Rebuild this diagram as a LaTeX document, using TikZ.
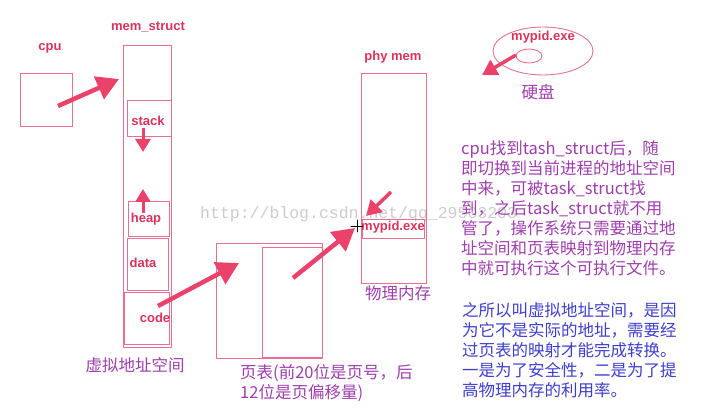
\documentclass[tikz,border=0pt]{standalone}
\usepackage{fontspec}
\setsansfont{Liberation Sans}
\newfontfamily\cjk{Noto Sans CJK SC}
\newfontfamily\wmfont{Liberation Mono}
\usetikzlibrary{arrows.meta,shapes.geometric}
\definecolor{boxred}{RGB}{232,112,142}
\definecolor{tagred}{RGB}{218,50,90}
\definecolor{arrred}{RGB}{234,66,106}
\definecolor{notepurple}{RGB}{158,62,172}
\definecolor{noteblue}{RGB}{62,62,205}

\begin{document}
\begin{tikzpicture}[x=1pt,y=-1pt,line cap=round,line join=round,
 box/.style={draw=boxred,line width=0.9pt,inner sep=0pt,anchor=north west},
 tag/.style={text=tagred,font=\sffamily\bfseries\fontsize{13}{13}\selectfont,inner sep=1pt},
 note/.style={font=\cjk\fontsize{16.5}{20}\selectfont,align=left,anchor=north west,inner sep=0pt},
 fat/.style={draw=arrred,line width=4.5pt,line cap=butt,-{Triangle[length=22pt,width=24pt]}},
 midarr/.style={draw=arrred,line width=3.5pt,line cap=butt,-{Triangle[length=15pt,width=17pt]}},
 thin/.style={draw=arrred,line width=3pt,line cap=butt,-{Triangle[length=13pt,width=15pt]}}]
\useasboundingbox (0,0) rectangle (701,414);
% watermark
\node[anchor=west,inner sep=0pt,text=black!20,font=\wmfont\fontsize{16.5}{16.5}\selectfont] (wm) at (200,214) {http://blog.csdn.net/qq\_29503203};
% cpu
\node[tag] (cpulbl) at (50,48) {cpu};
\node[box,minimum width=52,minimum height=53] (cpu) at (20,73) {};
% virtual address space
\node[tag] (memlbl) at (148,27) {mem\_struct};
\node[box,minimum width=48,minimum height=302] (mem) at (123,45) {};
\node[box,minimum width=44,minimum height=36] (stack) at (127,100) {};
\node[box,minimum width=41,minimum height=35] (heap) at (128,201) {};
\node[box,minimum width=41,minimum height=52] (data) at (127,238) {};
\node[box,minimum width=45,minimum height=52] (code) at (124,292) {};
\node[tag] (stacklbl) at (148,121) {stack};
\node[tag] (heaplbl) at (146,219) {heap};
\node[tag] (datalbl) at (143,263) {data};
\node[tag] (codelbl) at (155,318) {code};
\node[note,anchor=center,text=notepurple] (vlbl) at (135,365) {虚拟地址空间};
% page table
\node[box,minimum width=106,minimum height=115] (ptab) at (216,243) {};
\node[box,minimum width=60,minimum height=110] (pinner) at (262,247) {};
\node[note,text=notepurple] (plbl) at (240,364) {页表(前20位是页号，后\\12位是页偏移量)};
% physical memory
\node[tag] (phylbl) at (393,57) {phy mem};
\node[box,minimum width=65,minimum height=210] (phy) at (361,73) {};
\node[box,minimum width=62,minimum height=19] (phyexe) at (362,219) {};
\node[tag] (exelbl) at (393,227) {mypid.exe};
\node[note,anchor=center,text=notepurple] (phytxt) at (398,293) {物理内存};
% disk
\node[draw=boxred,line width=0.9pt,ellipse,minimum width=100,minimum height=48] (disk) at (543,51) {};
\node[draw=boxred,line width=0.9pt,ellipse,minimum width=26,minimum height=14,inner sep=0pt] (hole) at (529,56) {};
\node[tag] (disklbl) at (543,37) {mypid.exe};
\node[note,anchor=center,text=notepurple] (disktxt) at (538,92) {硬盘};
% arrow ends
\coordinate (cpuout) at (58,106);
\coordinate (memin) at (119,79);
\coordinate (stk1) at (143,128);
\coordinate (stk2) at (143,152);
\coordinate (hp1) at (143,213);
\coordinate (hp2) at (143,189);
\coordinate (codeout) at (158,306);
\coordinate (ptabin) at (239,263);
\coordinate (ptabout) at (293,278);
\coordinate (exein) at (355,228);
\coordinate (diskout) at (516,55);
\coordinate (diskin) at (482,75);
\coordinate (phyout) at (391,192);
\coordinate (phyin) at (366,216);
\draw[fat] (cpuout) -- (memin);
\draw[thin] (stk1) -- (stk2);
\draw[thin] (hp1) -- (hp2);
\draw[fat] (codeout) -- (ptabin);
\draw[fat] (ptabout) -- (exein);
\draw[midarr] (diskout) -- (diskin);
\draw[midarr] (phyout) -- (phyin);
% cursor
\draw[black,line width=0.8pt] (351,226) -- (363,226) (357,220) -- (357,232);
% notes
\node[note,text=notepurple] (note1) at (461,140) {cpu找到tash\_struct后，随\\即切换到当前进程的地址空间\\中来，可被task\_struct找\\到，之后task\_struct就不用\\管了，操作系统只需要通过地\\址空间和页表映射到物理内存\\中就可执行这个可执行文件。};
\node[note,text=noteblue] (note2) at (462,302) {之所以叫虚拟地址空间，是因\\为它不是实际的地址，需要经\\过页表的映射才能完成转换。\\一是为了安全性，二是为了提\\高物理内存的利用率。};
\end{tikzpicture}
\end{document}
